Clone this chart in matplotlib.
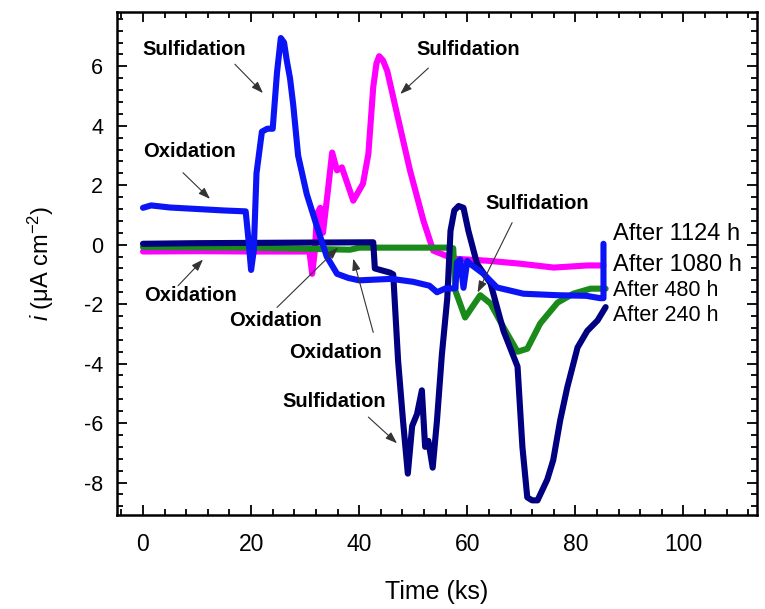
import numpy as np
import matplotlib
matplotlib.use("Agg")
import matplotlib.pyplot as plt
from matplotlib.ticker import MultipleLocator

plt.rcParams['font.family'] = ['Liberation Sans', 'DejaVu Sans']
plt.rcParams['mathtext.fontset'] = 'custom'
plt.rcParams['mathtext.rm'] = 'Liberation Sans'
plt.rcParams['mathtext.it'] = 'Liberation Sans:italic'
plt.rcParams['axes.unicode_minus'] = False

# current density traces (time in ks, i in uA cm^-2)
t_1124 = [0, 1.5, 5, 10, 15, 19, 19.5, 20, 20.5, 21, 22, 23, 24, 24.8, 25.5, 26.1, 26.6, 27.2,
          27.8, 28.7, 30.3, 32.2, 34, 35.9, 38, 40, 46, 50, 53, 54.4, 56, 57.8, 58.1, 58.7,
          59.3, 60, 60.5, 63, 65.5, 70.4, 76.7, 82, 84.6, 85.2, 85.2]
i_1124 = [1.24, 1.32, 1.25, 1.2, 1.15, 1.12, 0.2, -0.85, -0.2, 2.4, 3.8, 3.9, 3.9, 5.8, 6.95,
          6.8, 6.2, 5.6, 4.7, 3.0, 1.7, 0.6, -0.4, -0.98, -1.12, -1.2, -1.15, -1.25, -1.38,
          -1.6, -1.47, -1.47, -0.6, -0.5, -1.45, -0.55, -0.64, -0.98, -1.44, -1.65, -1.7,
          -1.72, -1.8, -1.8, 0.03]

t_1080 = [0, 10, 20, 30.8, 31.3, 31.8, 32.2, 32.8, 33.3, 34.2, 35, 35.9, 36.8, 38.9, 40.7,
          41.7, 42.6, 43.2, 43.7, 44.4, 45.2, 47, 49.4, 51.9, 53.7, 57.4, 63.7, 69.8, 76,
          82.2, 85.2]
i_1080 = [-0.23, -0.22, -0.23, -0.23, -0.98, -0.2, 1.04, 1.24, 0.4, 1.8, 3.1, 2.5, 2.6, 1.48,
          2.05, 3.05, 5.3, 6.1, 6.34, 6.2, 5.84, 4.4, 2.5, 0.8, -0.2, -0.47, -0.54, -0.64,
          -0.77, -0.7, -0.7]

t_480 = [0, 20, 38.3, 40, 50, 56.5, 57.4, 57.8, 59.6, 60.9, 62.4, 64.3, 66.7, 69.3, 71.1,
         73.5, 76.7, 79.6, 82.8, 85.6]
i_480 = [-0.08, -0.1, -0.17, -0.1, -0.1, -0.1, -0.12, -1.55, -2.45, -2.1, -1.7, -1.98, -2.78,
         -3.6, -3.5, -2.65, -1.95, -1.65, -1.48, -1.48]

t_240 = [0, 10, 20, 30, 42.6, 42.9, 45.7, 46.3, 47.2, 48.1, 49, 49.8, 50.7, 51.6, 52.2, 52.8,
         53.6, 54.4, 55.3, 56.3, 56.9, 57.6, 58.4, 59.3, 60.2, 61.8, 64.3, 66.7, 69.3, 70.2,
         71.1, 72, 73, 74.8, 75.9, 77.2, 78.5, 80.4, 82.2, 84.1, 85.6]
i_240 = [0.03, 0.05, 0.06, 0.07, 0.08, -0.8, -0.94, -1.0, -3.9, -5.9, -7.7, -6.1, -5.7, -4.9,
         -6.8, -6.6, -7.5, -5.9, -3.7, -1.8, 0.47, 1.15, 1.3, 1.24, 0.47, -0.64, -1.3, -2.9,
         -4.1, -6.8, -8.5, -8.6, -8.6, -7.9, -7.25, -5.9, -4.8, -3.46, -2.9, -2.55, -2.1]

series = [
    (t_1080, i_1080, '#ff00ff', 'After 1080 h', -0.70, 17),
    (t_480, i_480, '#1a8a1a', 'After 480 h', -1.54, 15.5),
    (t_240, i_240, '#000080', 'After 240 h', -2.38, 15.5),
    (t_1124, i_1124, '#0a14f5', 'After 1124 h', 0.37, 17),
]

# (label, text position, arrow tail, arrow head)
notes = [
    ('Sulfidation', (9.5, 6.58), (17.0, 6.07), (22.2, 5.1)),
    ('Sulfidation', (60.1, 6.58), (52.8, 5.94), (47.6, 5.07)),
    ('Oxidation', (8.6, 3.15), (7.4, 2.42), (12.4, 1.54)),
    ('Oxidation', (8.7, -1.71), (6.5, -1.38), (11.1, -0.5)),
    ('Oxidation', (24.5, -2.55), (24.8, -2.11), (36.1, -0.1)),
    ('Oxidation', (35.6, -3.62), (42.6, -2.95), (38.9, -0.47)),
    ('Sulfidation', (35.4, -5.27), (41.7, -5.8), (47.0, -6.68)),
    ('Sulfidation', (72.9, 1.38), (68.3, 0.74), (61.9, -1.61)),
]

fig = plt.figure(figsize=(7.65, 6.09), dpi=100)
ax = fig.add_axes([0.153, 0.154, 0.8365, 0.826])

for t, i, c, lab, ly, fs in series:
    ax.plot(t, i, color=c, lw=4.4, solid_joinstyle='round', solid_capstyle='round')
    ax.text(86.9, ly, lab, fontsize=fs, va='center', ha='left')

for txt, tp, tail, head in notes:
    ax.text(tp[0], tp[1], txt, fontsize=14.5, fontweight='bold', ha='center', va='center')
    ax.annotate('', xy=head, xytext=tail,
                arrowprops=dict(arrowstyle='-|>,head_length=0.7,head_width=0.25',
                                color='#333333', lw=0.8, shrinkA=0, shrinkB=0))

ax.set_xlim(-4.8, 113.6)
ax.set_ylim(-9.1, 7.82)
ax.xaxis.set_major_locator(MultipleLocator(20))
ax.xaxis.set_minor_locator(MultipleLocator(4))
ax.yaxis.set_major_locator(MultipleLocator(2))
ax.yaxis.set_minor_locator(MultipleLocator(0.4))
ax.tick_params(which='both', direction='in', top=True, right=True, width=1.3)
ax.tick_params(which='major', length=7)
ax.tick_params(which='minor', length=4)
ax.tick_params(axis='x', labelsize=16.5, pad=13)
ax.tick_params(axis='y', labelsize=15.5, pad=10)
for s in ax.spines.values():
    s.set_linewidth(1.8)

ax.set_xlabel('Time (ks)', fontsize=18, labelpad=17)
ax.set_ylabel(r'$i$ ($\mathrm{\mu}$A cm$^{-2}$)', fontsize=17, labelpad=20)

fig.savefig('out.png', dpi=100)
